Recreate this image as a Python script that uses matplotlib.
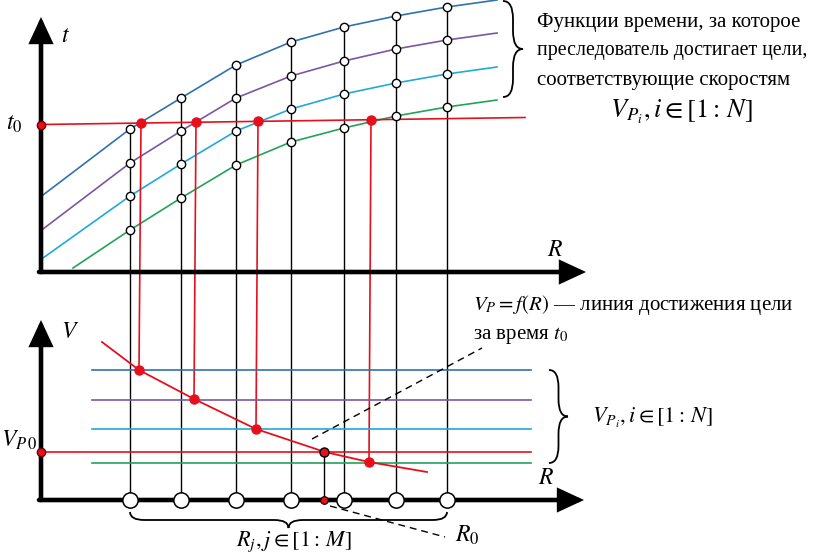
import numpy as np
import matplotlib.pyplot as plt
from matplotlib.path import Path
from matplotlib.patches import PathPatch

plt.rcParams['font.family'] = ['Liberation Serif', 'DejaVu Serif']
plt.rcParams['mathtext.fontset'] = 'stix'

#-------------------- diagram data (picture units, y grows downwards) --------------------

R_cols = [130, 181, 236, 291, 344, 396, 447]      # R_j positions

# t(R) curves for the four speeds V_Pi, read at R_j, plus start and end points
curve_x_start = [43, 43, 43, 73]
curve_y_start = [195, 229, 258, 268]
t_curves = [
    [129, 98, 65, 42, 27, 16, 7],      # blue
    [163, 131, 98, 76, 61, 49, 40],    # purple
    [196, 164, 131, 109, 94, 83, 74],  # cyan
    [230, 198, 165, 142, 128, 116, 107],  # green
]
curve_y_end = [0, 33, 67, 100]
curve_x_end = 497
curve_colors = ['#2f72b0', '#7b57a3', '#1fa9dc', '#22a35a']

# t0 level
t0_x = [41, 525]
t0_y = [124.5, 117.5]
t0_cross_x = [141, 196, 258, 371]      # t0 crosses each t(R) curve

# lower panel: speed levels V_Pi
V_levels = [370, 400, 429, 463]
V_x0, V_x1 = 92, 531
VP0_level = 452

# V_P = f(R) line
f_R = [102, 139, 194, 256, 325, 369, 427]
f_V = [342, 370, 399, 429, 452, 462, 472]
f_cross_x = [139, 194, 256, 369]       # f(R) meets V_Pi
R0 = 324

red = '#e5101c'

#-------------------- drawing --------------------

fig = plt.figure(figsize=(8.18, 5.57), dpi=100)
ax = fig.add_axes([0, 0, 1, 1])
ax.set_xlim(0, 818)
ax.set_ylim(557, 0)
ax.axis('off')


def arrow(x0, y0, x1, y1):
    ax.annotate('', xy=(x1, y1), xytext=(x0, y0),
                arrowprops=dict(arrowstyle='-|>,head_length=1.4,head_width=0.65',
                                lw=3.3, color='k', shrinkA=0, shrinkB=0,
                                joinstyle='miter'), zorder=6)


def brace(x0, y0, length, depth, vertical=True, lw=1.3):
    m = length / 2.
    q = min(depth, m) * 0.9
    d = depth
    uv = [(0, 0), (0, d/2), (q, d/2), (m - q, d/2), (m, d/2), (m, d),
          (m, d/2), (m + q, d/2), (length - q, d/2), (length, d/2), (length, 0)]
    codes = [Path.MOVETO, Path.CURVE3, Path.CURVE3, Path.LINETO, Path.CURVE3, Path.CURVE3,
             Path.CURVE3, Path.CURVE3, Path.LINETO, Path.CURVE3, Path.CURVE3]
    if vertical:
        pts = [(x0 + v, y0 + u) for u, v in uv]
    else:
        pts = [(x0 + u, y0 + v) for u, v in uv]
    ax.add_patch(PathPatch(Path(pts, codes), fill=False, lw=lw, color='k'))


# black vertical R_j lines
for j, x in enumerate(R_cols):
    top = min(c[j] for c in t_curves)
    ax.plot([x, x], [top, 500], color='k', lw=1.0, zorder=2)

# top panel curves
for c in range(4):
    xs = [curve_x_start[c]] + R_cols + [curve_x_end]
    ys = [curve_y_start[c]] + t_curves[c] + [curve_y_end[c]]
    ax.plot(xs, ys, color=curve_colors[c], lw=1.2, zorder=3)
    ax.plot(R_cols, t_curves[c], 'o', ms=6, mfc='white', mec='k', mew=1.0, zorder=5)

# t0 line and crossings
ax.plot(t0_x, t0_y, color=red, lw=1.2, zorder=3)
t0_cross_y = np.interp(t0_cross_x, t0_x, t0_y)
ax.plot(t0_cross_x, t0_cross_y, 'o', color=red, ms=6.5, zorder=5)
ax.plot([t0_x[0]], [t0_y[0]], 'o', color=red, mec='#700000', ms=6, zorder=7)

# red drop lines to lower panel
f_cross_y = np.interp(f_cross_x, f_R, f_V)
for xt, yt, xb, yb in zip(t0_cross_x, t0_cross_y, f_cross_x, f_cross_y):
    ax.plot([xt, xb], [yt, yb], color=red, lw=1.2, zorder=3)

# lower panel speed levels
for c in range(4):
    ax.plot([V_x0, V_x1], [V_levels[c], V_levels[c]], color=curve_colors[c], lw=1.2, zorder=3)
ax.plot([41, V_x1], [VP0_level, VP0_level], color=red, lw=1.2, zorder=3)
ax.plot([41], [VP0_level], 'o', color=red, mec='#700000', ms=6, zorder=7)

# V_P = f(R)
ax.plot(f_R, f_V, color=red, lw=1.3, zorder=4)
ax.plot(f_cross_x, f_cross_y, 'o', color=red, ms=6.5, zorder=5)
ax.plot([R0, R0], [VP0_level, 500], color='k', lw=1.0, zorder=4)
ax.plot([R0], [VP0_level], 'o', color=red, mec='k', mew=1.0, ms=6.5, zorder=7)
ax.plot([R0], [500], 'o', color=red, mec='k', mew=0.8, ms=5.5, zorder=8)

# R_j circles on the lower axis
ax.plot(R_cols, [500] * len(R_cols), 'o', ms=11, mfc='white', mec='k', mew=1.1, zorder=7)

# axes
arrow(41, 272, 41, 17)
arrow(39, 272, 586, 272)
arrow(41, 500, 41, 320)
arrow(39, 500, 584, 500)

# dashed pointers
ax.plot([312, 482], [439, 348], color='k', lw=1.0, ls=(0, (5, 3.5)), zorder=4)
ax.plot([330, 445], [506, 537], color='k', lw=1.0, ls=(0, (5, 3.5)), zorder=4)

# braces
brace(503, 1, 96, 20, vertical=True)
brace(549, 370, 93, 19, vertical=True)
brace(130, 512, 317, 16, vertical=False)

# labels
fs = 15
ms_ = 17
ax.text(61, 37, '$t$', fontsize=ms_, ha='left', va='center')
ax.text(14, 124, '$t_0$', fontsize=ms_, ha='center', va='center')
ax.text(555, 251, '$R$', fontsize=ms_, ha='center', va='center')
ax.text(61, 333, '$V$', fontsize=ms_, ha='left', va='center')
ax.text(37, 440, '$V_{P\\,0}$', fontsize=ms_, ha='right', va='center')
ax.text(546, 479, '$R$', fontsize=ms_, ha='center', va='center')
ax.text(455, 535, '$R_0$', fontsize=ms_, ha='left', va='center')
ax.text(294, 542, '$R_j, j \\in [1{:}\\,M]$', fontsize=16, ha='center', va='center')
ax.text(592, 418, '$V_{P_i}, i \\in [1{:}\\,N]$', fontsize=16, ha='left', va='center')

ax.text(537, 22, 'Функции времени, за которое', fontsize=fs, ha='left', va='center')
ax.text(537, 51, 'преследователь достигает цели,', fontsize=14.3, ha='left', va='center')
ax.text(537, 80, 'соответствующие скоростям', fontsize=fs, ha='left', va='center')
ax.text(681, 112, '$V_{P_i}, i \\in [1{:}\\,N]$', fontsize=19, ha='center', va='center')

ax.text(473, 305, '$V_P = f(R)$ — линия достижения цели', fontsize=fs, ha='left', va='center')
ax.text(473, 336, 'за время $t_0$', fontsize=fs, ha='left', va='center')

fig.savefig('out.png', dpi=100)
